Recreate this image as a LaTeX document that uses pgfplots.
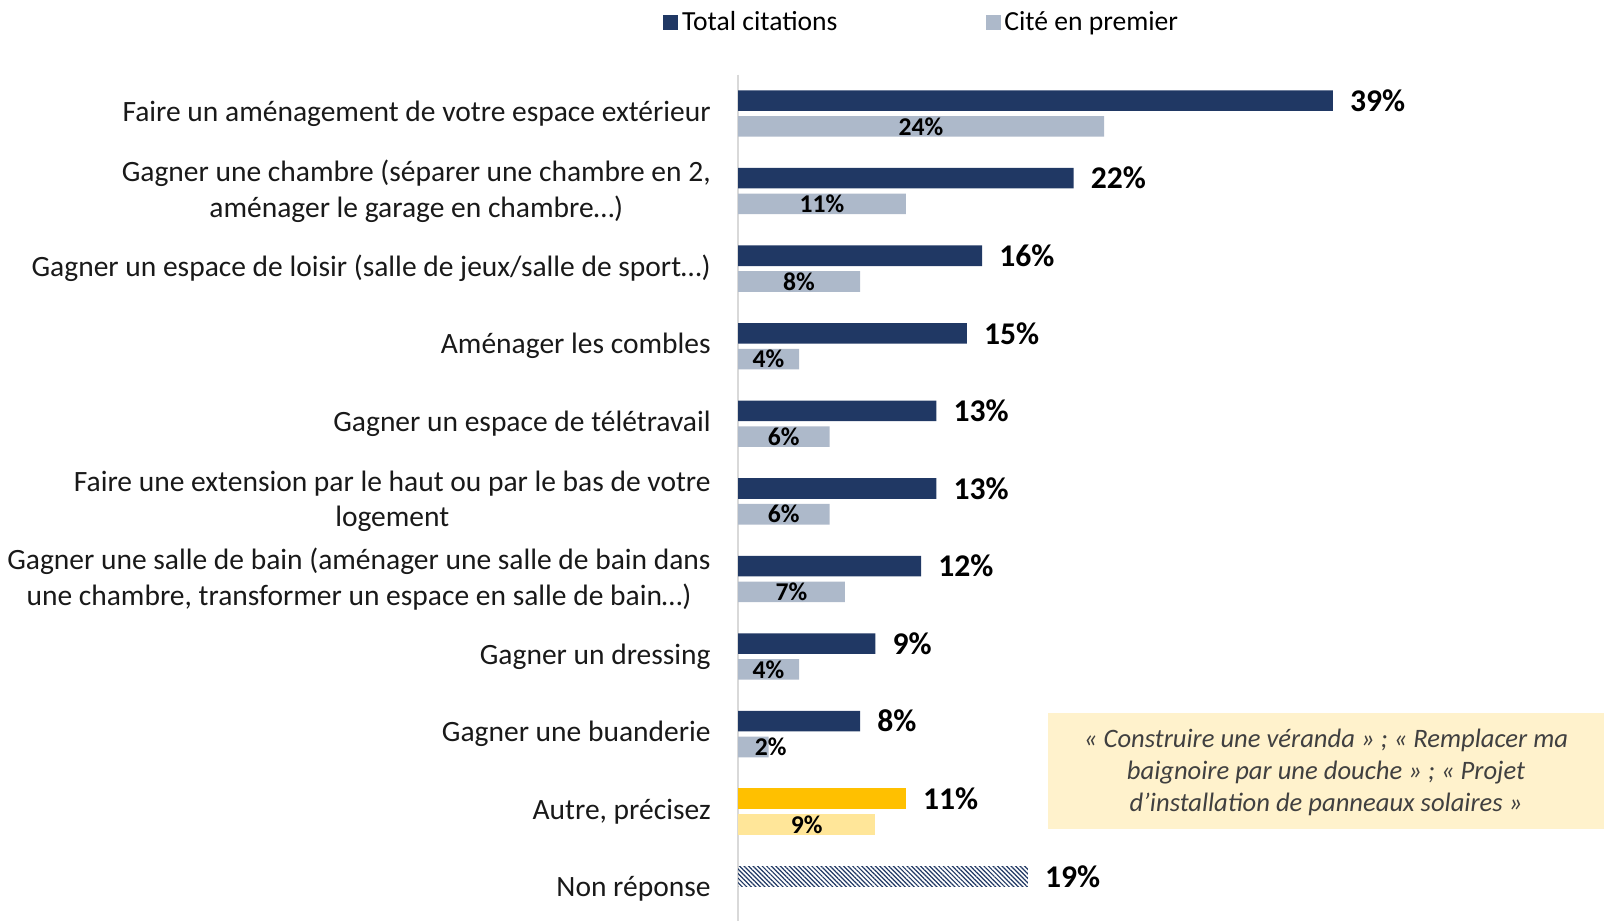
\documentclass[border=0pt]{standalone}
\usepackage{fontspec}
\setmainfont{Carlito}
\usepackage{pgfplots}
\pgfplotsset{compat=1.18}
\usepackage{pgfplotstable}
\usetikzlibrary{patterns.meta}
\definecolor{navy}{HTML}{203864}
\definecolor{lblue}{HTML}{ADB9CA}
\definecolor{gold}{HTML}{FFC000}
\definecolor{lgold}{HTML}{FFE699}
\definecolor{boxbg}{HTML}{FFF2CC}
\definecolor{boxtxt}{HTML}{404040}
\definecolor{axgray}{HTML}{D9D9D9}

% lx = position of the inside label
\pgfplotstableread{
g tot first lx
0 39 24 12
1 22 11 5.5
2 16 8 4
3 15 4 2
4 13 6 3
5 13 6 3
6 12 7 3.5
7 9 4 2
8 8 2 2.15
}\main
\pgfplotstableread{
g tot first lx
9 11 9 4.5
}\autre
\pgfplotstableread{
g tot
10 19
}\nonrep

\begin{document}
\begin{tikzpicture}
\path[use as bounding box] (0,0) rectangle (802pt,461.5pt);
\begin{axis}[
  at={(369pt,1pt)}, anchor=south west,
  scale only axis, width=305pt, height=423.15pt,
  xmin=0, xmax=40, ymin=-0.5, ymax=10.41, y dir=reverse,
  axis x line=none, axis y line*=left,
  y axis line style={draw=axgray, line width=1pt, -},
  ytick={0,...,10},
  yticklabels={
    {Faire un aménagement de votre espace extérieur},
    {Gagner une chambre (séparer une chambre en 2,\\aménager le garage en chambre…)},
    {Gagner un espace de loisir (salle de jeux/salle de sport…)},
    {Aménager les combles},
    {Gagner un espace de télétravail},
    {Faire une extension par le haut ou par le bas de votre\\logement},
    {Gagner une salle de bain (aménager une salle de bain dans\\une chambre, transformer un espace en salle de bain…)},
    {Gagner un dressing},
    {Gagner une buanderie},
    {Autre, précisez},
    {Non réponse}},
  major tick length=0pt,
  yticklabel style={align=center, font=\fontsize{14.75}{17.9}\selectfont, inner sep=0pt, xshift=-13.5pt, text=black!90},
  /pgf/number format/assume math mode=true,
  clip=false,
  legend columns=2,
  legend style={at={(axis description cs:-0.123,1.0615)}, anchor=west, draw=none, fill=none,
    inner sep=0pt, font=\fontsize{13.8}{16}\selectfont,
    /tikz/every even column/.append style={column sep=72pt}},
]
\addlegendimage{legend image code/.code={\fill[navy] (0pt,-3.5pt) rectangle (7pt,3.5pt);}}
\addlegendentry{Total citations}
\addlegendimage{legend image code/.code={\fill[lblue] (0pt,-3.5pt) rectangle (7pt,3.5pt);}}
\addlegendentry{Cité en premier}

% total citations
\addplot[forget plot, xbar, bar width=10.3pt, bar shift=0pt, fill=navy, draw=none,
  point meta=x,
  nodes near coords={\pgfmathprintnumber{\pgfplotspointmeta}\%},
  every node near coord/.append style={anchor=west, inner sep=0pt, xshift=8.5pt, font=\fontsize{15.8}{18}\selectfont\bfseries, text=black}]
  table[x=tot, y expr=\thisrow{g}-0.166] {\main};
% cite en premier
\addplot[forget plot, xbar, bar width=10.3pt, bar shift=0pt, fill=lblue, draw=none]
  table[x=first, y expr=\thisrow{g}+0.166] {\main};
\addplot[forget plot, only marks, mark=none, point meta=\thisrow{first},
  nodes near coords={\pgfmathprintnumber{\pgfplotspointmeta}\%},
  every node near coord/.append style={anchor=center, inner sep=0pt, font=\fontsize{12.8}{15}\selectfont\bfseries, text=black}]
  table[x=lx, y expr=\thisrow{g}+0.166] {\main};
% autre
\addplot[forget plot, xbar, bar width=10.3pt, bar shift=0pt, fill=gold, draw=none,
  point meta=x,
  nodes near coords={\pgfmathprintnumber{\pgfplotspointmeta}\%},
  every node near coord/.append style={anchor=west, inner sep=0pt, xshift=8.5pt, font=\fontsize{15.8}{18}\selectfont\bfseries, text=black}]
  table[x=tot, y expr=\thisrow{g}-0.166] {\autre};
\addplot[forget plot, xbar, bar width=10.3pt, bar shift=0pt, fill=lgold, draw=none]
  table[x=first, y expr=\thisrow{g}+0.166] {\autre};
\addplot[forget plot, only marks, mark=none, point meta=\thisrow{first},
  nodes near coords={\pgfmathprintnumber{\pgfplotspointmeta}\%},
  every node near coord/.append style={anchor=center, inner sep=0pt, font=\fontsize{12.8}{15}\selectfont\bfseries, text=black}]
  table[x=lx, y expr=\thisrow{g}+0.166] {\autre};
% non reponse
\addplot[forget plot, xbar, bar width=10.3pt, bar shift=0pt, draw=none,
  pattern={Lines[angle=-45, distance=1.6pt, line width=0.6pt]}, pattern color=navy,
  point meta=x,
  nodes near coords={\pgfmathprintnumber{\pgfplotspointmeta}\%},
  every node near coord/.append style={anchor=west, inner sep=0pt, xshift=8.5pt, font=\fontsize{15.8}{18}\selectfont\bfseries, text=black}]
  table[x=tot, y expr=\thisrow{g}-0.166] {\nonrep};
\end{axis}
\node[fill=boxbg, minimum width=278.25pt, minimum height=58pt, inner sep=0pt] at (663pt,76pt) {};
\node[align=center, inner sep=0pt, font=\fontsize{13.3}{15.85}\selectfont\itshape, text=boxtxt] at (663pt,75.3pt)
  {« Construire une véranda » ; « Remplacer ma\\baignoire par une douche » ; « Projet\\d’installation de panneaux solaires »};
\end{tikzpicture}
\end{document}
